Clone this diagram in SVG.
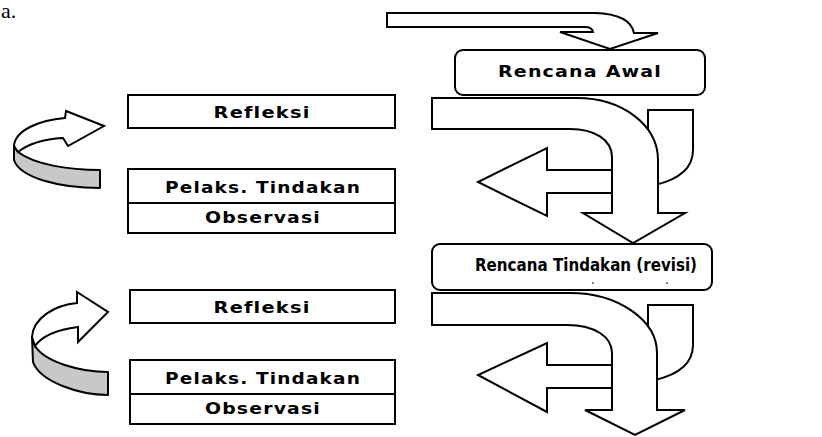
<svg xmlns="http://www.w3.org/2000/svg" width="822" height="437" viewBox="0 0 822 437">
<style>
.box{fill:#fff;stroke:#000;stroke-width:2}
.shape{fill:#fff;stroke:#000;stroke-width:2;stroke-linejoin:miter}
.band{fill:#c8c8c8;stroke:#000;stroke-width:2;stroke-linejoin:round}
.lbl{font-family:"DejaVu Sans","Verdana",sans-serif;font-weight:bold;font-size:16px;letter-spacing:1px;fill:#000;text-anchor:middle}
</style>
<rect width="822" height="437" fill="#fff"/>
<text x="1" y="18" font-family="Liberation Serif, serif" font-size="22" fill="#000">a.</text>

<g id="connectors">
  <path class="shape" d="M387,13 L595,13 Q630,14 634,33 L658,33 L610,49 L560,32 L593,32 Q592,27 585,27 L387,27 Z"/>
  <!-- first loop -->
  <path class="shape" d="M648,110 L693,110 L693,150 Q693,176 655,185 L648,185 Z"/>
  <path class="shape" d="M620,170 L547,170 L547,148 L478,182 L547,216 L547,193 L620,193 Z"/>
  <path class="shape" d="M432,98 L577,98 C622,98 658,125 658,160 L658,213 L685,213 L633,243 L583,213 L612,213 L612,157 C612,140 595,129 570,129 L432,129 Z"/>
  <!-- second loop -->
  <path class="shape" d="M648,305 L693,305 L693,345 Q693,371 655,380 L648,380 Z"/>
  <path class="shape" d="M620,365 L547,365 L547,343 L478,375 L547,412 L547,388 L620,388 Z"/>
  <path class="shape" d="M432,293 L570,293 C618,293 657,320 657,353 L657,410 L685,410 L635,435 L585,410 L612,410 L612,353 C612,337 595,325 567,325 L432,325 Z"/>
  <!-- left curved arrows -->
  <path class="band" d="M14,146 L14,160 C20,178 60,188 100,188 L100,170 C70,170 35,165 18,152 Z"/>
  <path class="shape" d="M14,146 C15,130 40,120 65,118 L66,111 L104,126 L68,146 L63,138 C45,139 28,144 18,152 Z"/>
  <path class="band" d="M32,337 L33,362 C40,382 80,395 108,395 L108,372 C80,372 45,362 35,346 Z"/>
  <path class="shape" d="M32,337 C33,318 55,305 77,303 L77,292 L108,312 L78,342 L78,327 C55,330 42,336 35,346 Z"/>
</g>

<g id="rencana-awal">
  <rect class="box" x="455" y="50" width="250" height="45" rx="8"/>
  <text class="lbl" x="580" y="77" textLength="164" lengthAdjust="spacingAndGlyphs">Rencana Awal</text>
</g>
<g id="refleksi-1">
  <rect class="box" x="128" y="95" width="267" height="33"/>
  <text class="lbl" x="262" y="118" textLength="97" lengthAdjust="spacingAndGlyphs">Refleksi</text>
</g>
<g id="pelaks-1">
  <rect class="box" x="128" y="169" width="267" height="34"/>
  <text class="lbl" x="263" y="193" textLength="196" lengthAdjust="spacingAndGlyphs">Pelaks. Tindakan</text>
</g>
<g id="observasi-1">
  <rect class="box" x="128" y="203" width="267" height="30"/>
  <text class="lbl" x="263" y="223" textLength="116" lengthAdjust="spacingAndGlyphs">Observasi</text>
</g>
<g id="rencana-tindakan">
  <rect class="box" x="432" y="244" width="280" height="46" rx="8"/>
  <text class="lbl" x="586" y="271" textLength="222" lengthAdjust="spacingAndGlyphs" style="font-size:17px;letter-spacing:0">Rencana Tindakan (revisi)</text>
  <circle cx="593" cy="283" r="0.9" fill="#444"/>
  <circle cx="667" cy="283" r="0.9" fill="#444"/>
</g>
<g id="refleksi-2">
  <rect class="box" x="130" y="290" width="265" height="33"/>
  <text class="lbl" x="262" y="313" textLength="97" lengthAdjust="spacingAndGlyphs">Refleksi</text>
</g>
<g id="pelaks-2">
  <rect class="box" x="130" y="360" width="265" height="34"/>
  <text class="lbl" x="263" y="384" textLength="196" lengthAdjust="spacingAndGlyphs">Pelaks. Tindakan</text>
</g>
<g id="observasi-2">
  <rect class="box" x="130" y="394" width="265" height="30"/>
  <text class="lbl" x="263" y="414" textLength="116" lengthAdjust="spacingAndGlyphs">Observasi</text>
</g>
</svg>
